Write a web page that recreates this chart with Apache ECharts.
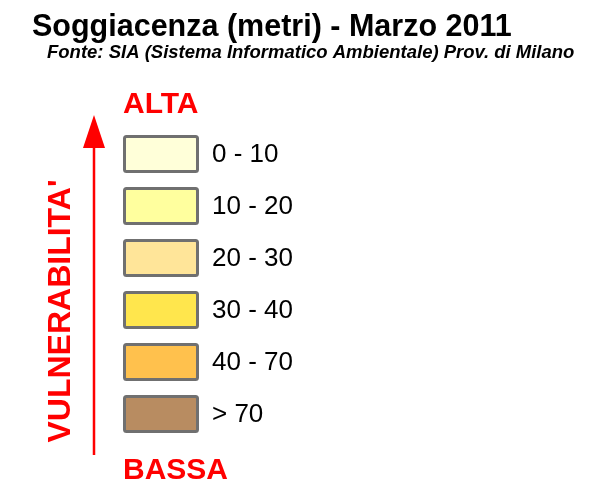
<!DOCTYPE html>
<html>
<head>
<meta charset="utf-8">
<script src="https://cdn.jsdelivr.net/npm/echarts@6/dist/echarts.min.js"></script>
<style>
  html, body { margin: 0; padding: 0; background: #fff; }
  #chart { width: 606px; height: 495px; }
</style>
</head>
<body>
<div id="chart"></div>
<script>
const classes = ['0 - 10', '10 - 20', '20 - 30', '30 - 40', '40 - 70', '> 70']
const classColors = ['#FFFFD9', '#FFFF9E', '#FFE599', '#FFE64D', '#FFC14D', '#B88C61']
const boxValues = [1, 1, 1, 1, 1, 1]

const red = '#FF0000'
const font = 'Liberation Sans, Arial, sans-serif'

const chart = echarts.init(document.getElementById('chart'))

const option = {
  backgroundColor: '#fff',
  animation: false,
  title: [
    {
      text: 'Soggiacenza (metri) - Marzo 2011',
      left: 27,
      top: 7,
      textStyle: { fontFamily: font, fontSize: 30.5, fontWeight: 'bold', color: '#000' },
    },
    {
      text: 'Fonte: SIA (Sistema Informatico Ambientale) Prov. di Milano',
      left: 42,
      top: 38,
      textStyle: { fontFamily: font, fontSize: 18.5, fontWeight: 'bold', fontStyle: 'italic', color: '#000' },
    },
  ],
  grid: {
    left: 123,
    width: 76,
    top: 128,
    height: 312,
  },
  xAxis: {
    type: 'value',
    min: 0,
    max: 1,
    show: false,
  },
  yAxis: {
    type: 'category',
    data: classes,
    inverse: true,
    show: false,
  },
  series: [
    {
      type: 'bar',
      barWidth: 38,
      data: boxValues.map((v, i) => ({
        value: v,
        itemStyle: { color: classColors[i] },
      })),
      itemStyle: {
        borderColor: '#707070',
        borderWidth: 3,
        borderRadius: 2,
      },
      label: {
        show: true,
        position: 'right',
        distance: 13,
        offset: [0, 1],
        formatter: (p) => classes[p.dataIndex],
        fontFamily: font,
        fontSize: 26,
        color: '#000',
      },
      silent: true,
    },
  ],
  graphic: [
    {
      type: 'text',
      left: 123,
      top: 90,
      style: { text: 'ALTA', fill: red, font: 'bold 30px ' + font },
    },
    {
      type: 'text',
      left: 123,
      top: 456,
      style: { text: 'BASSA', fill: red, font: 'bold 30px ' + font },
    },
    {
      type: 'text',
      x: 61,
      y: 311,
      rotation: Math.PI / 2,
      style: {
        text: "VULNERABILITA'",
        fill: red,
        font: 'bold 32px ' + font,
        align: 'center',
        verticalAlign: 'middle',
      },
    },
    {
      type: 'line',
      shape: { x1: 94, y1: 140, x2: 94, y2: 455 },
      style: { stroke: red, lineWidth: 2.5 },
    },
    {
      type: 'polygon',
      shape: { points: [[94, 115], [83, 148], [105, 148]] },
      style: { fill: red },
    },
  ],
}

chart.setOption(option)
</script>
</body>
</html>
